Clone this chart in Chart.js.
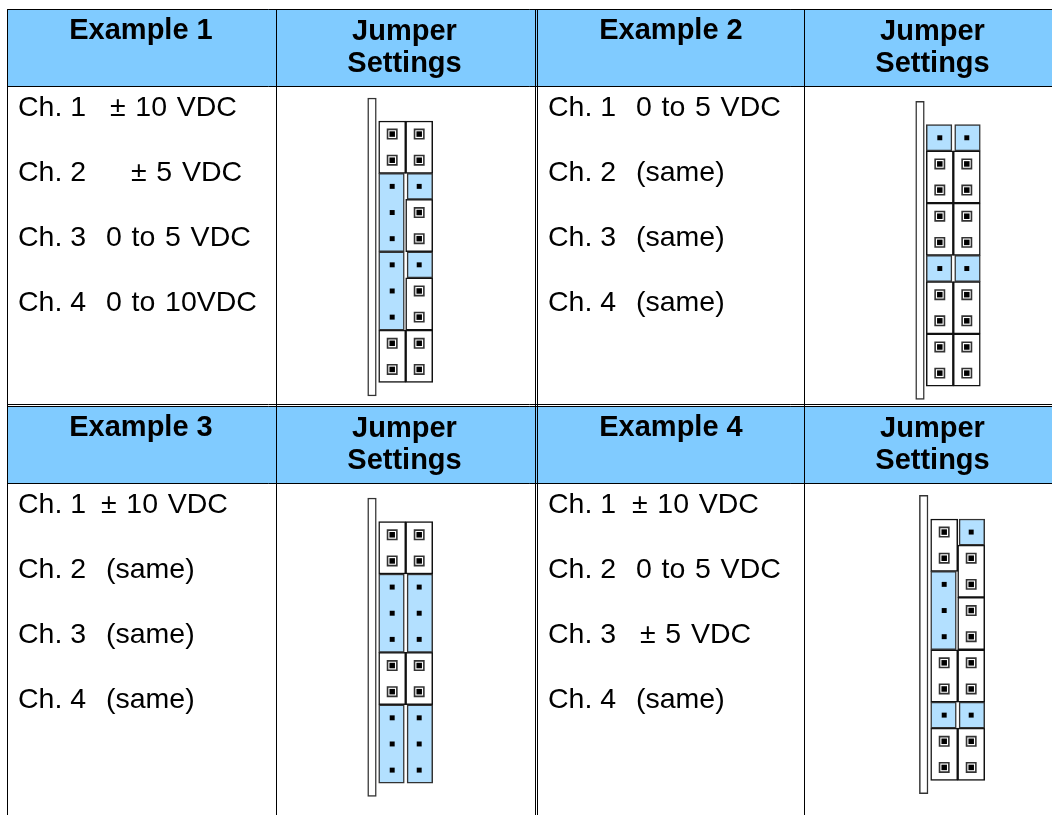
<!DOCTYPE html>
<html>
<head>
<meta charset="utf-8">
<title>Jumper Settings</title>
<script src="https://cdn.jsdelivr.net/npm/chart.js@4"></script>
<style>
  html, body { margin: 0; padding: 0; background: #fff; }
  canvas { display: block; }
</style>
</head>
<body>
<canvas id="jumperChart" width="1052" height="815"></canvas>
<script>
// TABLE TEXT
const exampleTitles = ["Example 1", "Example 2", "Example 3", "Example 4"];
const settingsTitle = ["Jumper", "Settings"];
const channelNames = ["Ch. 1", "Ch. 2", "Ch. 3", "Ch. 4"];
const example1Ranges = ["± 10 VDC", "± 5 VDC", "0 to 5 VDC", "0 to 10VDC"];
const example2Ranges = ["0 to 5 VDC", "(same)", "(same)", "(same)"];
const example3Ranges = ["± 10 VDC", "(same)", "(same)", "(same)"];
const example4Ranges = ["± 10 VDC", "0 to 5 VDC", "± 5 VDC", "(same)"];

// JUMPER BLOCKS: pins covered by each cap, top to bottom. Negative = open (blue) group
const example1Left = [2, -3, -3, 2];
const example1Right = [2, -1, 2, -1, 2, 2];
const example2Left = [-1, 2, 2, -1, 2, 2];
const example2Right = [-1, 2, 2, -1, 2, 2];
const example3Left = [2, -3, 2, -3];
const example3Right = [2, -3, 2, -3];
const example4Left = [2, -3, 2, -1, 2];
const example4Right = [-1, 2, 2, 2, -1, 2];

// LAYOUT
const HEADER_BLUE = "#80CBFF";
const JUMPER_BLUE = "#B3E0FF";
const PIN_PITCH = 26.15;
const COL_WIDTH = 27;
const panels = [
  { left: 378.7, top: 121, stripLeft: 372, stripTop: 98, stripBottom: 396, ranges: example1Ranges, leftCol: example1Left, rightCol: example1Right },
  { left: 926.3, top: 124.7, stripLeft: 920, stripTop: 101.3, stripBottom: 399.3, ranges: example2Ranges, leftCol: example2Left, rightCol: example2Right },
  { left: 378.7, top: 521.7, stripLeft: 372, stripTop: 498, stripBottom: 796.3, ranges: example3Ranges, leftCol: example3Left, rightCol: example3Right },
  { left: 930.7, top: 519, stripLeft: 923.7, stripTop: 495.3, stripBottom: 793.7, ranges: example4Ranges, leftCol: example4Left, rightCol: example4Right },
];
const rangeOffsets = [
  [92, 113, 88, 88],
  [88, 88, 88, 88],
  [83, 88, 88, 88],
  [84, 88, 92, 88],
];
const textLeft = [18, 548, 18, 548];
const titleCenter = [141, 671, 141, 671];
const settingsCenter = [404.5, 932.5, 404.5, 932.5];
const rowTops = [0, 0, 397, 397];

// BUILD MARKS FROM THE JUMPER LISTS
const openCaps = [];
const closedCaps = [];
const stripBars = [];
const openPins = [];
const closedPins = [];

panels.forEach((panel) => {
  stripBars.push({ x: panel.stripLeft, y: [panel.stripTop, panel.stripBottom] });
  [panel.leftCol, panel.rightCol].forEach((col, colIndex) => {
    const colCenter = panel.left + COL_WIDTH * (colIndex + 0.5);
    let row = 0;
    col.forEach((group) => {
      const count = Math.abs(group);
      const isOpen = group < 0;
      const yRange = [panel.top + row * PIN_PITCH, panel.top + (row + count) * PIN_PITCH];
      if (isOpen) {
        // blue caps sit a little narrower, pushed to the outside of the block
        openCaps.push({ x: colCenter + (colIndex === 0 ? -0.7 : 0.7), y: yRange });
      } else {
        closedCaps.push({ x: colCenter, y: yRange });
      }
      for (let i = 0; i < count; i++) {
        const pin = { x: colCenter, y: panel.top + (row + i + 0.5) * PIN_PITCH };
        (isOpen ? openPins : closedPins).push(pin);
      }
      row += count;
    });
  });
});

// TABLE RULES
const rule = (x1, y1, x2, y2) => ({
  type: "scatter",
  data: [{ x: x1, y: y1 }, { x: x2, y: y2 }],
  showLine: true,
  borderColor: "#000",
  borderWidth: 1,
  pointRadius: 0,
  order: 1,
});
const verticalRules = [7.5, 276.5, 535.5, 537.5, 804.5];
const topRules = [9.5, 86.5, 404.5, 406.5, 483.5];

const tableText = {
  id: "tableText",
  afterDatasetsDraw(chart) {
    const { ctx, scales: { x, y } } = chart;
    ctx.save();
    ctx.fillStyle = "#000";
    ctx.textBaseline = "alphabetic";
    exampleTitles.forEach((title, i) => {
      ctx.font = "bold 29px 'Liberation Sans'";
      ctx.textAlign = "center";
      ctx.wordSpacing = "0px";
      ctx.fillText(title, x.getPixelForValue(titleCenter[i]), y.getPixelForValue(39 + rowTops[i]));
      settingsTitle.forEach((word, w) => {
        ctx.fillText(word, x.getPixelForValue(settingsCenter[i]), y.getPixelForValue(40 + w * 32 + rowTops[i]));
      });
      ctx.font = "28.5px 'Liberation Sans'";
      ctx.textAlign = "left";
      channelNames.forEach((name, r) => {
        const baseline = y.getPixelForValue(116 + r * 65 + rowTops[i]);
        ctx.wordSpacing = "0px";
        ctx.fillText(name, x.getPixelForValue(textLeft[i]), baseline);
        ctx.wordSpacing = "1.8px";
        ctx.fillText(panels[i].ranges[r], x.getPixelForValue(textLeft[i] + rangeOffsets[i][r]), baseline);
      });
    });
    ctx.restore();
  },
};

new Chart(document.getElementById("jumperChart"), {
  type: "scatter",
  data: {
    datasets: [
      // PINS
      { data: closedPins, pointStyle: "rect", pointRadius: 3.9, backgroundColor: "#000", borderWidth: 0, order: 2 },
      { data: closedPins, pointStyle: "rect", pointRadius: 6.6, backgroundColor: "#fff", borderColor: "#333", borderWidth: 1.6, order: 3 },
      { data: openPins, pointStyle: "rect", pointRadius: 3.5, backgroundColor: "#000", borderWidth: 0, order: 2 },
      // JUMPER CAPS
      { type: "bar", data: closedCaps, grouped: false, barThickness: 27, backgroundColor: "#fff", borderColor: "#111", borderWidth: 1.5, borderSkipped: false, order: 5 },
      { type: "bar", data: openCaps, grouped: false, barThickness: 25.6, backgroundColor: JUMPER_BLUE, borderColor: "#333", borderWidth: 1.5, borderSkipped: false, order: 4 },
      { type: "bar", data: stripBars, grouped: false, barThickness: 8.6, backgroundColor: "#fff", borderColor: "#333", borderWidth: 1.5, borderSkipped: false, order: 6 },
      // HEADER ROWS
      { type: "bar", data: [{ x: 530, y: [9.5, 86.5] }, { x: 530, y: [406.5, 483.5] }], grouped: false, barThickness: 1045, backgroundColor: HEADER_BLUE, borderWidth: 0, order: 7 },
      ...verticalRules.map((x) => rule(x, 9.5, x, 815)),
      ...topRules.map((y) => rule(7.5, y, 1052, y)),
    ],
  },
  options: {
    responsive: false,
    animation: false,
    layout: { padding: 0, autoPadding: false },
    plugins: { legend: { display: false }, tooltip: { enabled: false } },
    scales: {
      x: { type: "linear", min: 0, max: 1052, display: false, offset: false },
      y: { type: "linear", min: 0, max: 815, reverse: true, display: false, offset: false },
    },
  },
  plugins: [tableText],
});
</script>
</body>
</html>
